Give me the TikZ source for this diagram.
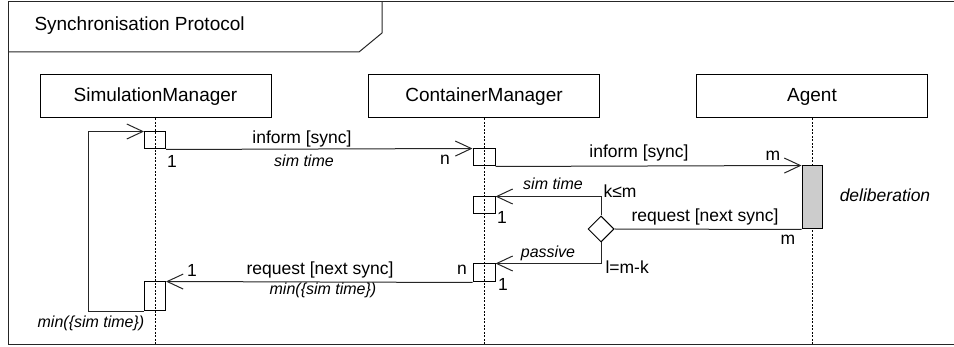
\documentclass[tikz,border=0pt]{standalone}
\usepackage{fontspec}
\setmainfont{Liberation Sans}
\usetikzlibrary{arrows.meta,shapes.geometric}

\begin{document}
\begin{tikzpicture}[x=1pt,y=-1pt,line width=1pt,
  head/.style={draw=black,minimum width=231pt,minimum height=43pt,inner sep=0pt,
    font=\fontsize{19}{22}\selectfont},
  act/.style={draw=black,minimum width=21pt,inner sep=0pt},
  msg/.style={draw=black!85,-{Straight Barb[length=16pt,width=15pt,line width=1pt]}},
  link/.style={draw=black!85},
  life/.style={draw=black,line width=0.8pt,dash pattern=on 2pt off 1.5pt},
  lbl/.style={font=\fontsize{17.5}{20}\selectfont,inner sep=0pt},
  ilbl/.style={font=\fontsize{16}{19}\selectfont\itshape,inner sep=0pt},
]
\useasboundingbox (0,0) rectangle (954,347);

% frame and its name tab
\draw[link] (954,2) -- (8,2) -- (8,345) -- (954,345);
\draw[link] (8,52) -- (359,52) -- (382,33) -- (382,2);
\node[anchor=west,inner sep=0pt,font=\fontsize{19}{22}\selectfont] (title) at (34,26) {Synchronisation Protocol};

% lifeline heads
\node[head] (sm) at (155.5,96.5) {SimulationManager};
\node[head] (cm) at (484,96.5) {ContainerManager};
\node[head] (ag) at (812,96.5) {Agent};

% lifelines
\coordinate (smEnd) at (155,345);
\coordinate (cmEnd) at (484,345);
\coordinate (agEnd) at (812,345);
\draw[life] (sm.south -| smEnd) -- (smEnd);
\draw[life] (cm.south -| cmEnd) -- (cmEnd);
\draw[life] (ag.south -| agEnd) -- (agEnd);

% activations
\node[act,minimum height=17pt] (sm1) at (155,140.5) {};
\node[act,minimum height=29pt] (sm2) at (155,296.5) {};
\node[act,minimum width=22pt,minimum height=17pt] (cm1) at (484,157.5) {};
\node[act,minimum width=22pt,minimum height=17pt] (cm2) at (484,205.5) {};
\node[act,minimum width=22pt,minimum height=18pt] (cm3) at (484,273) {};
\node[act,fill=black!20,minimum width=20pt,minimum height=63pt] (ag1) at (812,197.5) {};

% decision
\node[draw=black,diamond,minimum size=26pt,inner sep=0pt] (dec) at (601,229) {};

% messages
\draw[msg] (sm1.south east) -- (cm1.north west);
\draw[msg] (cm1.south east) -- (ag1.north west);
\draw[link] (ag1.south west) -- (dec.east);
\draw[msg] (dec.north) |- (cm2.north east);
\draw[msg] (dec.south) |- (cm3.north east);
\draw[msg] (cm3.south west) -- (sm2.north east);
\coordinate (loopx) at (88,0);
\draw[msg] (sm2.south west) -- (sm2.south west -| loopx) |- (sm1.north west);

% labels
\node[lbl] (l1) at (302,139) {inform [sync]};
\node[ilbl] (l2) at (304,161) {sim time};
\node[lbl] (l3) at (172,161) {1};
\node[lbl] (l4) at (445,160) {n};
\node[lbl] (l5) at (639,153) {inform [sync]};
\node[lbl] (l6) at (773,156) {m};
\node[ilbl] (l7) at (553,184) {sim time};
\node[lbl,anchor=west] (l8) at (603,191) {k≤m};
\node[lbl] (l9) at (502,217) {1};
\node[lbl] (l10) at (705,217) {request [next sync]};
\node[lbl] (l11) at (788,240) {m};
\node[font=\fontsize{17.5}{20}\selectfont\itshape,inner sep=0pt] (l12) at (885,195) {deliberation};
\node[ilbl] (l13) at (548,253) {passive};
\node[lbl,anchor=west] (l14) at (605,267) {l=m-k};
\node[lbl] (l15) at (462,270) {n};
\node[lbl] (l16) at (503,284) {1};
\node[lbl] (l17) at (320,270) {request [next sync]};
\node[ilbl] (l18) at (323,290) {min(\{sim time\})};
\node[lbl] (l19) at (192,270) {1};
\node[ilbl] (l20) at (91,323) {min(\{sim time\})};
\end{tikzpicture}
\end{document}
